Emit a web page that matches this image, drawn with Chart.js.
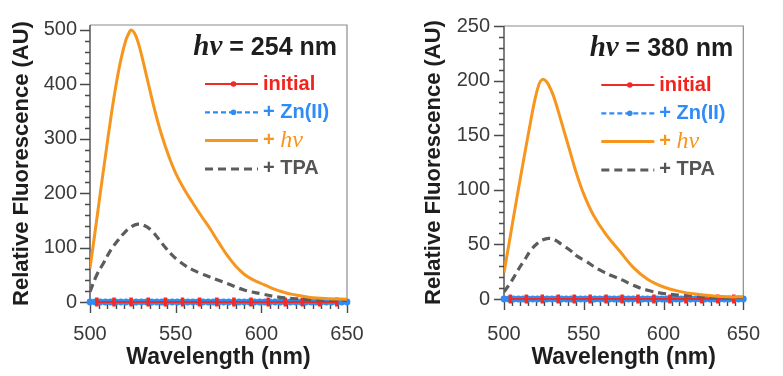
<!DOCTYPE html>
<html>
<head>
<meta charset="utf-8">
<script src="https://cdn.jsdelivr.net/npm/chart.js@4.4.0/dist/chart.umd.min.js"></script>
<style>
  html, body { margin: 0; padding: 0; background: #fff; }
  .panel { position: absolute; top: 0; }
</style>
</head>
<body>
<div class="panel" style="left:0"><canvas id="c254" width="390" height="376"></canvas></div>
<div class="panel" style="left:390px"><canvas id="c380" width="393" height="376"></canvas></div>
<script>
// ---- data ----
const xTickValues = [500, 550, 600, 650];
const yTicks254 = [0, 100, 200, 300, 400, 500];
const yTicks380 = [0, 50, 100, 150, 200, 250];

const seriesLabels = ['initial', '+ Zn(II)', '+ hν', '+ TPA'];

// baseline traces (both panels, ~0)
const initialX = [504, 514, 524, 534, 544, 554, 564, 574, 584, 594, 604, 614, 624, 634, 644];
const initialY = [0, 0, 0, 0, 0, 0, 0, 0, 0, 0, 0, 0, 0, 0, 0];
const zincX = [500, 503, 506, 509, 512, 515, 518, 521, 524, 527, 530, 533, 536, 539, 542, 545, 548, 551, 554, 557, 560, 563, 566, 569, 572, 575, 578, 581, 584, 587, 590, 593, 596, 599, 602, 605, 608, 611, 614, 617, 620, 623, 626, 629, 632, 635, 638, 641, 644, 647, 650];
const zincY = [0, 0, 0, 0, 0, 0, 0, 0, 0, 0, 0, 0, 0, 0, 0, 0, 0, 0, 0, 0, 0, 0, 0, 0, 0, 0, 0, 0, 0, 0, 0, 0, 0, 0, 0, 0, 0, 0, 0, 0, 0, 0, 0, 0, 0, 0, 0, 0, 0, 0, 0];

// hv = 254 nm
const hv254X = [500, 503, 506, 509, 512, 515, 518, 521, 523, 524, 526, 528, 530, 534, 538, 542, 546, 550, 555, 560, 565, 570, 575, 580, 585, 590, 595, 600, 605, 610, 615, 620, 625, 630, 640, 650];
const hv254Y = [62, 130, 200, 268, 335, 395, 445, 482, 496, 500, 494, 478, 455, 402, 350, 305, 268, 237, 207, 182, 158, 135, 110, 86, 66, 51, 41, 34, 27, 21, 16, 13, 10, 8, 6, 5];
const tpa254X = [500, 504, 508, 512, 516, 520, 524, 528, 532, 536, 540, 544, 548, 552, 556, 560, 565, 570, 575, 580, 590, 600, 610, 620, 630, 640, 650];
const tpa254Y = [19, 50, 72, 95, 112, 127, 138, 143, 140, 131, 116, 100, 86, 75, 66, 59, 52, 46, 40, 34, 22, 15, 9, 6, 4, 3, 2];

// hv = 380 nm
const hv380X = [500, 504, 508, 512, 516, 519, 522, 524, 526, 528, 531, 534, 537, 541, 545, 550, 556, 564, 573, 581, 590, 600, 610, 620, 630, 640, 650];
const hv380Y = [24, 58, 92, 125, 157, 180, 197, 201, 200, 196, 186, 172, 157, 137, 117, 96, 77, 59, 43, 29, 18, 11, 7, 4.5, 3, 2, 2];
const tpa380X = [500, 505, 509, 513, 517, 521, 524, 528, 532, 537, 542, 546, 551, 556, 562, 568, 574, 581, 590, 600, 610, 620, 630, 640, 650];
const tpa380Y = [6.5, 17, 27, 36, 45, 51, 54, 55.5, 54, 49, 44, 39, 35, 30, 25, 21, 17.5, 12.5, 8, 5, 3.5, 2.5, 1.5, 1, 1];

// ---- styling ----
const SANS = '"Liberation Sans", Arial, Helvetica, sans-serif';
const SERIF = '"Liberation Serif", "Times New Roman", serif';
const RED = '#f22a24';
const BLUE = '#2f8cf5';
const ORANGE = '#f7961e';
const GRAY = '#5c5c5c';

const pts = (xs, ys) => xs.map((x, i) => ({ x, y: ys[i] }));

// text where "hν" is set in italic serif
function drawRich(ctx, text, x, y, size, color, align, boldHv) {
  const parts = text.split(/(hν)/).filter(s => s);
  const fonts = parts.map(p => p === 'hν'
    ? `italic ${boldHv ? 'bold ' : ''}${size + 4}px ${SERIF}`
    : `bold ${size}px ${SANS}`);
  const widths = parts.map((p, i) => { ctx.font = fonts[i]; return ctx.measureText(p).width; });
  const total = widths.reduce((a, b) => a + b, 0);
  let cx = align === 'right' ? x - total : x;
  ctx.fillStyle = color;
  ctx.textBaseline = 'middle';
  ctx.textAlign = 'left';
  parts.forEach((p, i) => { ctx.font = fonts[i]; ctx.fillText(p, cx, y); cx += widths[i]; });
}

const panelDecor = {
  id: 'panelDecor',
  beforeDatasetsDraw(chart, args, opts) {
    const { ctx, chartArea: a, scales: { x, y } } = chart;
    ctx.save();
    // frame (top / right in light gray)
    ctx.strokeStyle = '#8c8c8c';
    ctx.lineWidth = 1.2;
    ctx.beginPath();
    ctx.moveTo(a.left, a.top); ctx.lineTo(a.right, a.top); ctx.lineTo(a.right, a.bottom);
    ctx.stroke();
    // axes
    ctx.strokeStyle = '#4a4a4a';
    ctx.lineWidth = 1.4;
    ctx.beginPath();
    ctx.moveTo(a.left, a.top); ctx.lineTo(a.left, a.bottom); ctx.lineTo(a.right, a.bottom);
    // y ticks, outward
    for (let v = 0; v <= y.max; v += opts.yMinor) {
      const py = Math.round(y.getPixelForValue(v)) + 0.5;
      const len = v % opts.yMajor === 0 ? 10 : 5;
      ctx.moveTo(a.left - len, py); ctx.lineTo(a.left, py);
    }
    // x ticks, hanging below the axis
    for (let v = x.min; v <= x.max; v += 5) {
      const px = Math.round(x.getPixelForValue(v)) + 0.5;
      const len = v % 50 === 0 ? 11 : 7;
      ctx.moveTo(px, a.bottom); ctx.lineTo(px, a.bottom + len);
    }
    ctx.stroke();
    ctx.restore();
  },
  afterDraw(chart, args, opts) {
    const { ctx, chartArea: a } = chart;
    ctx.save();
    drawRich(ctx, opts.title, a.right - 10, a.top + 23, 25, '#1e1e1e', 'right', true);
    chart.data.datasets.forEach((ds, i) => {
      const yy = a.top + 59 + i * 28.3;
      const x0 = a.right - 142, x1 = a.right - 89;
      ctx.strokeStyle = ds.borderColor;
      ctx.lineWidth = ds.legendWidth;
      ctx.setLineDash(ds.borderDash || []);
      ctx.beginPath(); ctx.moveTo(x0, yy); ctx.lineTo(x1, yy); ctx.stroke();
      ctx.setLineDash([]);
      if (ds.legendDot) {
        ctx.fillStyle = ds.borderColor;
        ctx.beginPath(); ctx.arc((x0 + x1) / 2 + 2, yy, 2.8, 0, Math.PI * 2); ctx.fill();
      }
      drawRich(ctx, ds.label, a.right - 84, yy, 20, ds.textColor, 'left', false);
    });
    ctx.restore();
  }
};

function buildDatasets(hvX, hvY, tpaX, tpaY) {
  return [
    {
      label: seriesLabels[0], data: pts(initialX, initialY), order: 1,
      borderColor: RED, backgroundColor: RED, borderWidth: 2, legendWidth: 2.2, legendDot: true, textColor: '#f2231d',
      pointStyle: 'line', pointRotation: 90, pointRadius: 4.5, pointBorderWidth: 3.5, clip: false
    },
    {
      label: seriesLabels[1], data: pts(zincX, zincY), order: 2,
      borderColor: BLUE, backgroundColor: BLUE, borderWidth: 2.2, borderDash: [5, 3], legendWidth: 2.2, legendDot: true, textColor: '#2d8cf7',
      pointStyle: 'circle', pointRadius: 3.4, pointBorderWidth: 0, clip: false
    },
    {
      label: seriesLabels[2], data: pts(hvX, hvY), order: 0,
      borderColor: ORANGE, borderWidth: 3, legendWidth: 3, textColor: ORANGE, pointRadius: 0, tension: 0.4
    },
    {
      label: seriesLabels[3], data: pts(tpaX, tpaY), order: 0,
      borderColor: GRAY, borderWidth: 3.2, borderDash: [8, 5], legendWidth: 3, textColor: '#555', pointRadius: 0, tension: 0.4
    }
  ];
}

function makePanel(canvasId, cfg) {
  return new Chart(document.getElementById(canvasId), {
    type: 'line',
    data: { datasets: buildDatasets(cfg.hvX, cfg.hvY, cfg.tpaX, cfg.tpaY) },
    options: {
      responsive: false,
      animation: false,
      layout: { padding: { top: cfg.padTop, right: cfg.padRight, left: 0, bottom: 0 } },
      scales: {
        x: {
          type: 'linear', min: 500, max: 650,
          grid: { display: false, drawTicks: false }, border: { display: false },
          afterBuildTicks: s => { s.ticks = xTickValues.map(v => ({ value: v })); },
          afterFit: s => { s.height = cfg.xHeight; },
          ticks: { color: '#3a3a3a', font: { family: SANS, size: 20 }, padding: cfg.xLabelPad, maxRotation: 0, autoSkip: false },
          title: { display: true, text: 'Wavelength (nm)', color: '#1e1e1e', font: { family: SANS, size: 23, weight: 'bold' }, padding: { top: 0, bottom: 5 } }
        },
        y: {
          min: 0, max: cfg.yMax,
          grid: { display: false, drawTicks: false }, border: { display: false },
          afterBuildTicks: s => { s.ticks = cfg.yTicks.map(v => ({ value: v })); },
          afterFit: s => { s.width = cfg.yWidth; },
          ticks: { color: '#3a3a3a', font: { family: SANS, size: 20 }, padding: cfg.yLabelPad },
          title: { display: true, text: 'Relative Fluorescence (AU)', color: '#1e1e1e', font: { family: SANS, size: 22, weight: 'bold' }, padding: { top: cfg.yTitlePad, bottom: 0 } }
        }
      },
      plugins: {
        legend: { display: false },
        tooltip: { enabled: false },
        panelDecor: { title: cfg.title, yMinor: cfg.yMinor, yMajor: cfg.yMajor }
      }
    },
    plugins: [panelDecor]
  });
}

makePanel('c254', {
  title: 'hν = 254 nm', hvX: hv254X, hvY: hv254Y, tpaX: tpa254X, tpaY: tpa254Y,
  yMax: 509, yTicks: yTicks254, yMinor: 20, yMajor: 100,
  padTop: 22, padRight: 43, yWidth: 90, xHeight: 74, xLabelPad: 20, yLabelPad: 13, yTitlePad: 9
});
makePanel('c380', {
  title: 'hν = 380 nm', hvX: hv380X, hvY: hv380Y, tpaX: tpa380X, tpaY: tpa380Y,
  yMax: 250, yTicks: yTicks380, yMinor: 10, yMajor: 50,
  padTop: 19, padRight: 22, yWidth: 114, xHeight: 77, xLabelPad: 23, yLabelPad: 14, yTitlePad: 31
});
</script>
</body>
</html>
